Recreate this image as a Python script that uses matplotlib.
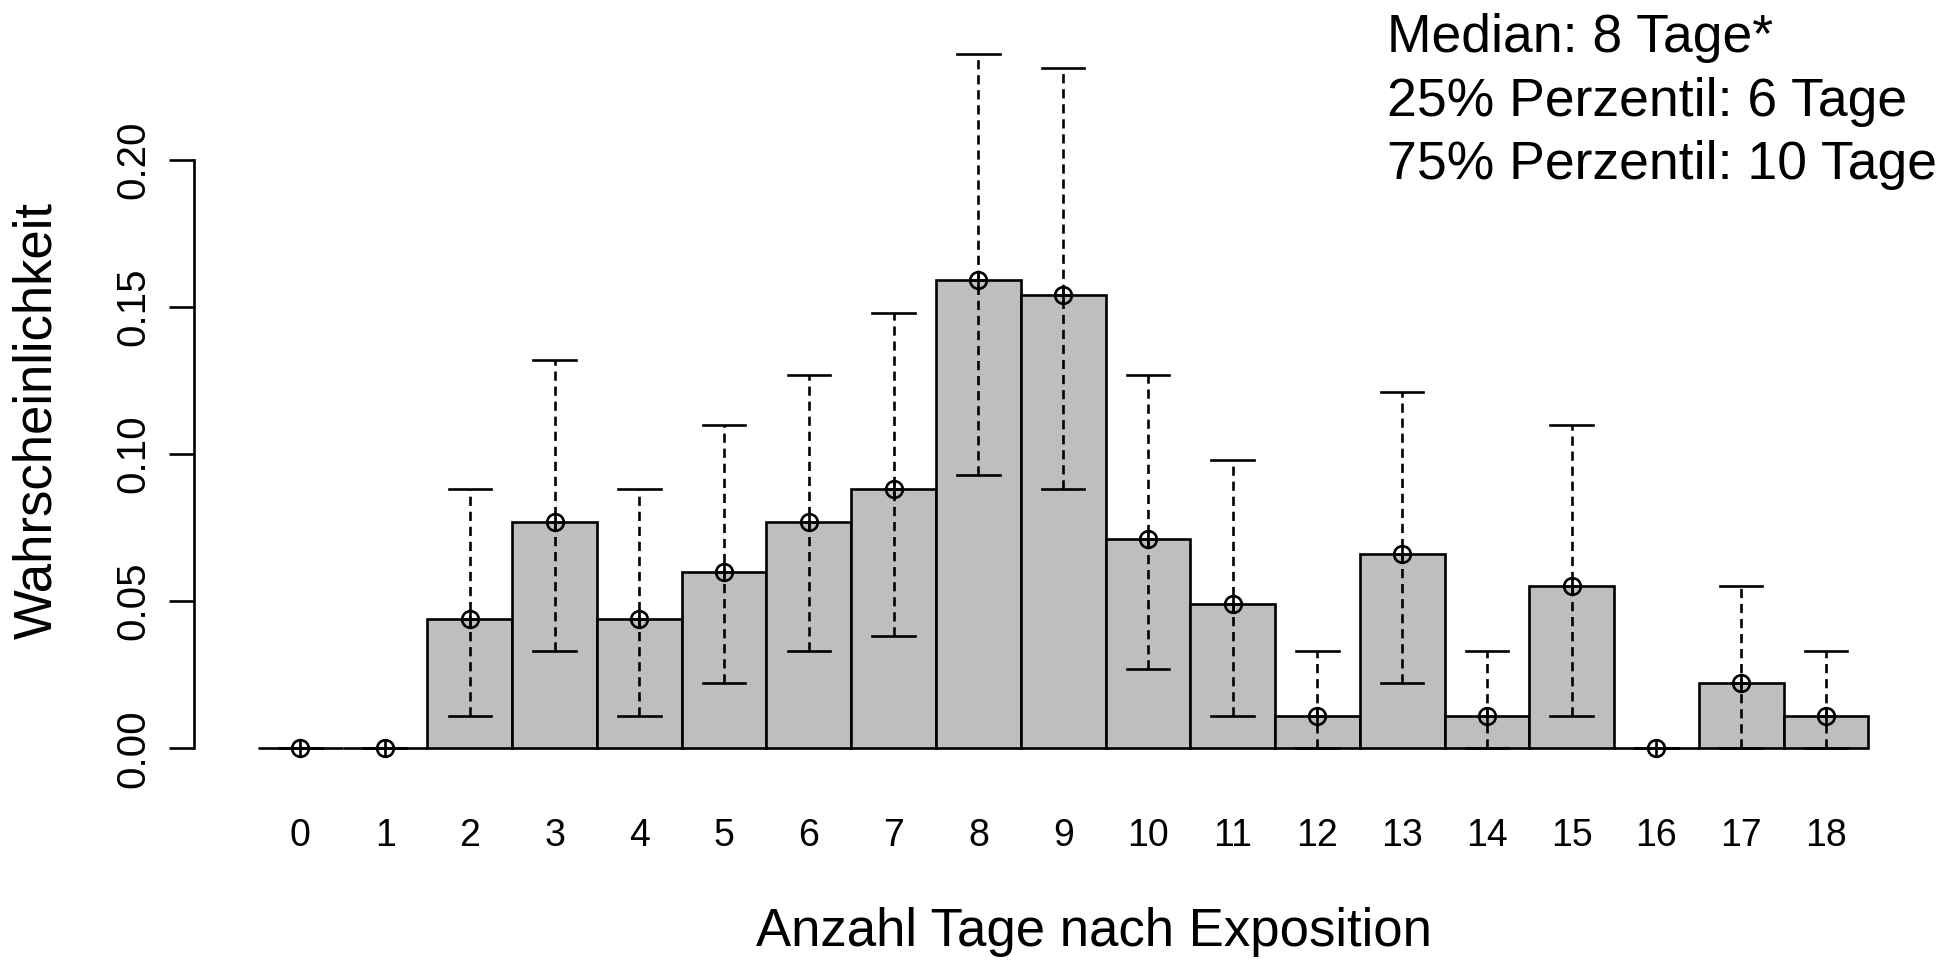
import numpy as np
import matplotlib
matplotlib.use("Agg")
import matplotlib.pyplot as plt

plt.rcParams.update({
    "font.family": ["Liberation Sans", "DejaVu Sans"],
})

# ---------------------------------------------------------
# Daten
# ---------------------------------------------------------
tage = [str(t) for t in range(19)]
wahrsch = [0.0, 0.0, 0.044, 0.077, 0.044, 0.060, 0.077, 0.088, 0.159, 0.154,
           0.071, 0.049, 0.011, 0.066, 0.011, 0.055, 0.0, 0.022, 0.011]
obere = [0.0, 0.0, 0.088, 0.132, 0.088, 0.110, 0.127, 0.148, 0.236, 0.231,
         0.127, 0.098, 0.033, 0.121, 0.033, 0.110, 0.0, 0.055, 0.033]
untere = [0.0, 0.0, 0.011, 0.033, 0.011, 0.022, 0.033, 0.038, 0.093, 0.088,
          0.027, 0.011, 0.0, 0.022, 0.0, 0.011, 0.0, 0.0, 0.0]
y_ticks = [0.00, 0.05, 0.10, 0.15, 0.20]
info = ["Median: 8 Tage*", "25% Perzentil: 6 Tage", "75% Perzentil: 10 Tage"]

LW = 1.9

fig = plt.figure(figsize=(19.57, 9.61), dpi=100)
ax = fig.add_axes([0.0989, 0.192, 0.8887, 0.7937])

x = np.arange(len(tage)) + 0.5
ax.bar(x, wahrsch, width=1.0, color="#bebebe", edgecolor="black", linewidth=LW, zorder=2)

# Fehlerbalken: gestrichelte Linie + Querstriche
cap = 0.25
for xi, lo, hi in zip(x, untere, obere):
    ax.plot([xi, xi], [lo, hi], color="black", linewidth=LW, dashes=(3.5, 2.2), zorder=3)
    ax.plot([xi - cap, xi + cap], [hi, hi], color="black", linewidth=LW, zorder=3)
    ax.plot([xi - cap, xi + cap], [lo, lo], color="black", linewidth=LW, zorder=3)

ax.plot(x, wahrsch, linestyle="none", marker="o", markersize=12,
        markerfacecolor="none", markeredgecolor="black", markeredgewidth=LW, zorder=4)
ax.plot(x, wahrsch, linestyle="none", marker="+", markersize=12,
        markeredgecolor="black", markeredgewidth=LW, zorder=4)

ax.set_xlim(-0.76, 19.76)
ax.set_ylim(-0.0096, 0.2496)

for s in ["top", "right", "bottom"]:
    ax.spines[s].set_visible(False)
ax.spines["left"].set_bounds(0, 0.2)
ax.spines["left"].set_linewidth(LW)

ax.set_yticks(y_ticks)
ax.set_yticklabels([f"{v:.2f}" for v in y_ticks], rotation=90, va="center")
ax.tick_params(axis="y", length=18, width=LW, pad=12, labelsize=29)

ax.set_xticks(x)
ax.set_xticklabels(tage)
ax.tick_params(axis="x", length=0, pad=30, labelsize=27)

fig.text(0.559, 0.030, "Anzahl Tage nach Exposition", ha="center", va="center", fontsize=38)
fig.text(0.019, 0.562, "Wahrscheinlichkeit", ha="center", va="center", rotation=90, fontsize=38)

for y, t in zip([0.9455, 0.879, 0.814], info):
    fig.text(0.7085, y, t, ha="left", va="baseline", fontsize=38.5)

fig.savefig("out.png", dpi=100)
